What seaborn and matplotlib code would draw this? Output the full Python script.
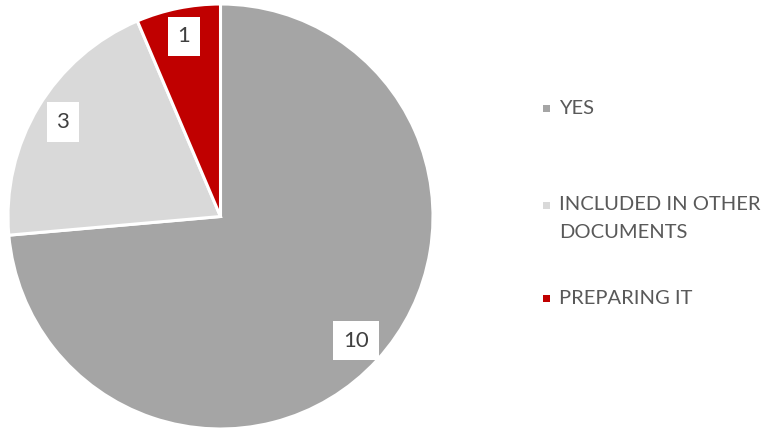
import matplotlib
matplotlib.use("Agg")
import matplotlib.pyplot as plt
import matplotlib.patches as mpatches
import seaborn as sns

categories = ["YES", "INCLUDED IN OTHER\nDOCUMENTS", "PREPARING IT"]
counts = [10, 3, 1]                 # data labels shown on the slices
shares = [73.6, 20.0, 6.4]          # slice sizes (% of circle)
colors = ["#a5a5a5", "#d9d9d9", "#c00000"]

sns.set_theme(style="white")
plt.rcParams['font.family'] = ['Lato', 'DejaVu Sans']

W, H = 763, 430
fig = plt.figure(figsize=(W / 100, H / 100), dpi=100)
cx, cy, r = 220.5, 216.5, 212.5
ax = fig.add_axes([(cx - r) / W, (H - cy - r) / H, 2 * r / W, 2 * r / H])

wedges, texts = ax.pie(
    shares, colors=colors, startangle=90, counterclock=False,
    labels=[str(v) for v in counts], labeldistance=0.865,
    wedgeprops=dict(edgecolor="white", linewidth=2.2),
    textprops=dict(fontsize=16, color="#404040", ha="center", va="center"),
    radius=1.0,
)
for t in texts:
    t.set_bbox(dict(facecolor="white", edgecolor="none", pad=7))
ax.set_xlim(-1, 1)
ax.set_ylim(-1, 1)
ax.set_aspect("equal")
ax.axis("off")

# legend
ys = [108, 205, 298]
line_gap = 28
for lab, col, y in zip(categories, colors, ys):
    fig.patches.append(mpatches.Rectangle((543 / W, (H - y - 3.5) / H), 7 / W, 7 / H,
                                          transform=fig.transFigure, facecolor=col,
                                          edgecolor="none"))
    for i, line in enumerate(lab.split("\n")):
        fig.text(559 / W, (H - y - i * line_gap) / H, line, fontsize=14.5, color="#595959",
                 va="center", ha="left")

fig.savefig("out.png", dpi=100)
